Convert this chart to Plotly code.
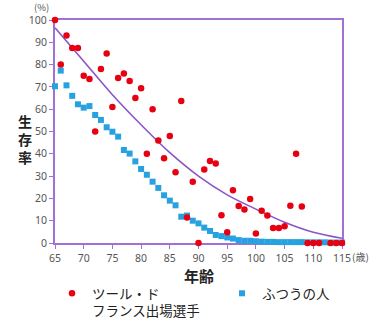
import plotly.graph_objects as go

# Survival rate (%) by age: Tour de France riders vs. general population
tdf_age = [65, 66, 67, 68, 69, 70, 71, 72, 73, 74, 75, 76, 77, 78, 79, 80,
           81, 82, 83, 84, 85, 86, 87, 88, 89, 90, 91, 92, 93, 94, 95, 96,
           97, 98, 99, 100, 101, 102, 103, 104, 105, 106, 107, 108, 109, 110,
           111, 113, 114, 115]
tdf_rate = [100, 80, 93, 87.5, 87.5, 75, 73.5, 50, 78, 85, 61, 74, 76, 72.6, 65, 69.4,
            40, 60, 46, 38, 48, 31.7, 63.7, 11.4, 27.5, 0, 33, 36.8, 35.6, 12.4, 4.8, 23.6,
            16.6, 15, 19.7, 4.3, 14.5, 12.3, 6.7, 6.7, 7.5, 16.7, 40, 16.4, 0, 0,
            0, 0, 0, 0]

pop_age = list(range(65, 116))
pop_rate = [70.3, 77.3, 70.7, 66, 62.2, 60.7, 61.4, 57.4, 55.2, 51.9, 49.9, 47.7, 41.7, 40.1,
            36.6, 33.2, 30.6, 27.5, 24.7, 21.4, 19, 16.9, 11.8, 12.3, 10, 8.8, 6.9, 5.4,
            3.6, 3.1, 2.5, 2, 1.3, 1, 1, 0.8, 0.6, 0.5, 0.5, 0.4, 0.4, 0.4, 0.4, 0.4,
            0.3, 0.3, 0.3, 0.3, 0.2, 0.2, 0.2]

# Trend curve through the rider data
trend_age = [65, 70, 75, 80, 85, 90, 95, 100, 105, 110, 115]
trend_rate = [96.5, 81.5, 66.5, 53, 40.5, 30, 21.6, 15.2, 9.3, 4.8, 2.1]

x_ticks = list(range(65, 116, 5))
y_ticks = list(range(0, 101, 10))

RED = "#e60012"
BLUE = "#27a2e0"
PURPLE = "#a070d4"
CURVE = "#8a55c8"
TICK_GRAY = "#555555"
JP = "Noto Sans CJK JP"

W, H = 375, 328
PX_L, PX_R, PX_T, PX_B = 55, 342, 20, 243


def px_x(px):
    return (px - PX_L) / (PX_R - PX_L)


def px_y(py):
    return (PX_B - py) / (PX_B - PX_T)


fig = go.Figure()

fig.add_trace(go.Scatter(
    x=trend_age, y=trend_rate, mode="lines", line=dict(color=CURVE, width=1.6, shape="spline"),
    showlegend=False, hoverinfo="skip",
))
fig.add_trace(go.Scatter(
    x=pop_age, y=pop_rate, mode="markers", name="ふつうの人",
    marker=dict(symbol="square", size=6, color=BLUE), cliponaxis=False,
))
fig.add_trace(go.Scatter(
    x=tdf_age, y=tdf_rate, mode="markers", name="ツール・ド<br>フランス出場選手",
    marker=dict(symbol="circle", size=6.5, color=RED), cliponaxis=False,
))

axis_common = dict(
    showline=True, linecolor=PURPLE, linewidth=2, mirror=True, showgrid=False,
    zeroline=False, ticks="outside", ticklen=4, tickwidth=1, tickcolor=PURPLE,
    tickfont=dict(family="Noto Sans", size=10.5, color=TICK_GRAY), layer="below traces",
)
fig.update_xaxes(range=[65, 115], tickvals=x_ticks, automargin=False, **axis_common)
fig.update_yaxes(range=[0, 100], tickvals=y_ticks, automargin=False, **axis_common)

# Text labels placed at page pixel positions
labels = [
    dict(x=41, y=7.5, text="(%)", font=dict(family=JP, size=9.5, color=TICK_GRAY)),
    dict(x=360, y=256, text="(歳)", font=dict(family=JP, size=10, color=TICK_GRAY)),
    dict(x=199, y=275, text="<b>年齢</b>", font=dict(family=JP, size=15, color="#222222")),
    dict(x=25, y=139, text="<b>生<br>存<br>率</b>", font=dict(family=JP, size=14, color="#222222")),
]
annotations = []
for a in labels:
    a.update(xref="paper", yref="paper", showarrow=False, xanchor="center", yanchor="middle")
    a["x"] = px_x(a["x"])
    a["y"] = px_y(a["y"])
    annotations.append(a)

fig.update_layout(
    width=W, height=H, margin=dict(l=PX_L, r=W - PX_R, t=PX_T, b=H - PX_B, autoexpand=False),
    paper_bgcolor="white", plot_bgcolor="white",
    annotations=annotations,
    legend=dict(
        orientation="h", traceorder="reversed",
        x=px_x(52), xanchor="left", y=px_y(278), yanchor="top", valign="top",
        entrywidth=125, entrywidthmode="pixels",
        font=dict(family=JP, size=13.5, color="#222222"),
        bgcolor="rgba(0,0,0,0)", tracegroupgap=0,
    ),
)

fig.write_html("out.html")
